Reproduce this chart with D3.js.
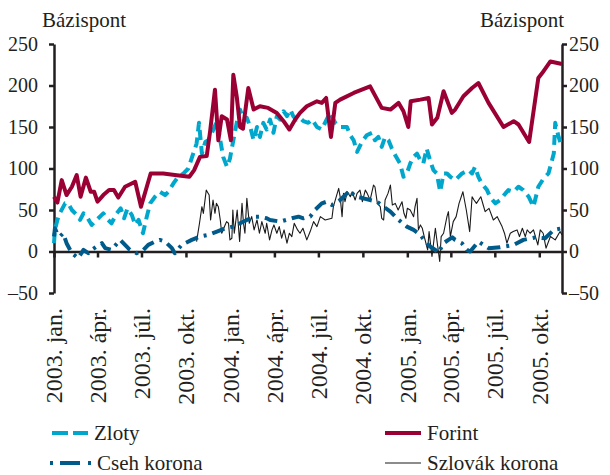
<!DOCTYPE html>
<html><head><meta charset="utf-8">
<script src="https://cdn.jsdelivr.net/npm/d3@7"></script>
<style>body{margin:0;background:#fff} svg{display:block}</style>
</head><body>
<svg id="c" width="610" height="475"></svg>
<script>
// ---- data ----
const forint = [["2003-01-01",66],["2003-01-08",59],["2003-01-17",86],["2003-01-27",68],["2003-02-07",78],["2003-02-17",92],["2003-02-25",66],["2003-03-08",89],["2003-03-18",72],["2003-03-25",72],["2003-04-01",60],["2003-04-13",68],["2003-04-25",74],["2003-05-05",74],["2003-05-14",65],["2003-05-28",78],["2003-06-18",84],["2003-06-30",54],["2003-07-12",78],["2003-07-20",94],["2003-08-15",94],["2003-09-12",92],["2003-10-08",90],["2003-10-18",98],["2003-10-30",114],["2003-11-13",115],["2003-11-20",145],["2003-11-30",195],["2003-12-07",134],["2003-12-14",163],["2003-12-25",159],["2004-01-02",134],["2004-01-07",213],["2004-01-14",187],["2004-01-21",150],["2004-01-27",148],["2004-02-07",197],["2004-02-18",171],["2004-03-02",175],["2004-03-19",173],["2004-04-06",167],["2004-04-20",157],["2004-05-02",147],["2004-05-14",159],["2004-05-24",167],["2004-06-07",175],["2004-06-28",181],["2004-07-08",179],["2004-07-17",185],["2004-07-27",138],["2004-08-05",179],["2004-08-15",183],["2004-09-12",191],["2004-10-16",199],["2004-11-09",173],["2004-11-27",171],["2004-12-14",179],["2004-12-24",169],["2005-01-03",150],["2005-01-08",181],["2005-01-28",183],["2005-02-14",185],["2005-02-21",153],["2005-03-04",161],["2005-03-17",193],["2005-04-03",167],["2005-04-10",171],["2005-04-27",187],["2005-05-15",197],["2005-05-28",203],["2005-06-18",179],["2005-07-19",150],["2005-08-09",157],["2005-08-19",153],["2005-09-10",132],["2005-09-29",209],["2005-10-07",215],["2005-10-24",229],["2005-11-17",226]];

const zloty = [["2003-01-01",10],["2003-01-03",26],["2003-01-08",38],["2003-01-13",46],["2003-01-24",58],["2003-01-30",58],["2003-02-07",50],["2003-02-17",44],["2003-02-24",38],["2003-03-03",46],["2003-03-10",42],["2003-03-20",32],["2003-03-30",38],["2003-04-13",46],["2003-04-23",38],["2003-04-30",34],["2003-05-11",46],["2003-05-19",52],["2003-05-26",40],["2003-06-02",52],["2003-06-11",44],["2003-06-18",32],["2003-06-25",38],["2003-07-04",22],["2003-07-12",42],["2003-07-19",58],["2003-07-29",66],["2003-08-08",72],["2003-08-19",68],["2003-08-26",72],["2003-09-05",82],["2003-09-15",90],["2003-09-26",94],["2003-10-06",100],["2003-10-16",118],["2003-10-23",130],["2003-10-28",155],["2003-11-03",118],["2003-11-10",132],["2003-11-16",134],["2003-11-27",147],["2003-12-04",157],["2003-12-11",134],["2003-12-17",114],["2003-12-25",102],["2003-12-31",112],["2004-01-07",134],["2004-01-14",155],["2004-01-21",171],["2004-01-28",159],["2004-02-04",161],["2004-02-11",150],["2004-02-18",134],["2004-02-25",150],["2004-03-02",138],["2004-03-09",155],["2004-03-16",147],["2004-03-23",159],["2004-03-30",143],["2004-04-06",163],["2004-04-13",159],["2004-04-20",169],["2004-04-27",163],["2004-05-04",171],["2004-05-10",163],["2004-05-17",159],["2004-05-24",161],["2004-05-31",157],["2004-06-10",155],["2004-06-18",159],["2004-06-28",150],["2004-07-08",147],["2004-07-18",159],["2004-07-25",167],["2004-08-05",155],["2004-08-15",150],["2004-08-29",150],["2004-09-05",140],["2004-09-12",134],["2004-09-19",120],["2004-09-29",132],["2004-10-09",140],["2004-10-20",143],["2004-10-26",134],["2004-11-02",138],["2004-11-09",126],["2004-11-16",138],["2004-11-23",134],["2004-11-30",124],["2004-12-07",116],["2004-12-17",106],["2004-12-24",90],["2004-12-31",94],["2005-01-07",106],["2005-01-14",114],["2005-01-21",118],["2005-01-28",110],["2005-02-03",106],["2005-02-10",124],["2005-02-17",110],["2005-02-24",98],["2005-03-03",94],["2005-03-10",72],["2005-03-17",94],["2005-03-24",94],["2005-03-31",90],["2005-04-10",86],["2005-04-24",94],["2005-05-08",98],["2005-05-15",94],["2005-05-21",102],["2005-05-28",90],["2005-06-04",82],["2005-06-15",74],["2005-06-21",66],["2005-07-02",58],["2005-07-12",62],["2005-07-23",70],["2005-07-29",74],["2005-08-09",72],["2005-08-19",78],["2005-08-29",74],["2005-09-09",66],["2005-09-19",54],["2005-09-29",78],["2005-10-10",88],["2005-10-20",94],["2005-10-31",118],["2005-11-03",155],["2005-11-10",138],["2005-11-17",126]];

const cseh = [["2003-01-01",18],["2003-01-03",28],["2003-01-07",22],["2003-01-13",18],["2003-01-20",22],["2003-01-27",10],["2003-02-07",-2],["2003-02-20",-8],["2003-03-03",2],["2003-03-13",-2],["2003-03-20",2],["2003-03-30",6],["2003-04-10",10],["2003-04-17",4],["2003-04-30",2],["2003-05-18",14],["2003-05-28",8],["2003-06-07",2],["2003-06-21",-2],["2003-07-05",2],["2003-07-15",8],["2003-07-29",12],["2003-08-08",14],["2003-08-19",12],["2003-09-02",4],["2003-09-08",-2],["2003-09-22",8],["2003-10-13",14],["2003-10-30",18],["2003-11-16",20],["2003-12-04",24],["2003-12-21",28],["2004-01-07",30],["2004-01-21",34],["2004-02-04",38],["2004-02-21",42],["2004-03-02",42],["2004-03-16",40],["2004-03-23",38],["2004-04-13",36],["2004-05-07",40],["2004-05-21",42],["2004-05-31",40],["2004-06-14",42],["2004-06-24",50],["2004-07-08",58],["2004-07-18",60],["2004-07-29",56],["2004-08-15",62],["2004-08-29",70],["2004-09-05",74],["2004-09-12",68],["2004-09-19",66],["2004-10-02",64],["2004-10-16",62],["2004-10-30",60],["2004-11-13",54],["2004-11-27",48],["2004-12-14",38],["2004-12-31",30],["2005-01-14",26],["2005-01-28",20],["2005-02-07",12],["2005-02-17",6],["2005-02-28",2],["2005-03-06",-2],["2005-03-17",10],["2005-03-27",14],["2005-04-04",17],["2005-04-10",14],["2005-04-24",10],["2005-05-04",2],["2005-05-11",0],["2005-05-28",12],["2005-06-18",4],["2005-07-12",5],["2005-08-09",8],["2005-08-29",14],["2005-09-23",17],["2005-10-13",16],["2005-10-31",26],["2005-11-17",28]];

const szlovak = [["2003-10-23",12],["2003-10-29",34],["2003-11-03",54],["2003-11-06",46],["2003-11-12",74],["2003-11-14",72],["2003-11-18",68],["2003-11-21",38],["2003-11-26",62],["2003-11-30",46],["2003-12-03",58],["2003-12-07",54],["2003-12-11",38],["2003-12-14",22],["2003-12-17",26],["2003-12-21",32],["2003-12-24",36],["2003-12-28",34],["2003-12-31",14],["2004-01-04",16],["2004-01-06",50],["2004-01-09",22],["2004-01-12",36],["2004-01-15",50],["2004-01-20",12],["2004-01-25",58],["2004-01-28",34],["2004-01-31",22],["2004-02-04",64],["2004-02-09",34],["2004-02-14",42],["2004-02-19",26],["2004-02-25",38],["2004-03-01",22],["2004-03-06",36],["2004-03-13",22],["2004-03-16",34],["2004-03-22",14],["2004-03-27",26],["2004-03-31",32],["2004-04-06",22],["2004-04-11",30],["2004-04-16",16],["2004-04-21",26],["2004-04-27",10],["2004-05-02",22],["2004-05-07",18],["2004-05-12",34],["2004-05-19",26],["2004-05-24",22],["2004-05-30",28],["2004-06-07",14],["2004-06-14",24],["2004-06-21",36],["2004-06-28",30],["2004-07-05",42],["2004-07-15",38],["2004-07-29",40],["2004-08-01",54],["2004-08-07",66],["2004-08-12",76],["2004-08-15",66],["2004-08-19",42],["2004-08-22",70],["2004-08-25",60],["2004-08-30",72],["2004-09-05",66],["2004-09-09",72],["2004-09-15",62],["2004-09-19",70],["2004-09-25",74],["2004-09-30",60],["2004-10-06",74],["2004-10-10",70],["2004-10-16",62],["2004-10-23",80],["2004-10-26",78],["2004-10-31",58],["2004-11-06",54],["2004-11-09",40],["2004-11-13",38],["2004-11-16",62],["2004-11-22",70],["2004-11-27",80],["2004-12-01",56],["2004-12-07",58],["2004-12-13",50],["2004-12-21",60],["2004-12-25",46],["2004-12-29",40],["2005-01-01",52],["2005-01-07",50],["2005-01-14",42],["2005-01-17",54],["2005-01-21",64],["2005-01-24",26],["2005-01-28",32],["2005-02-01",28],["2005-02-05",18],["2005-02-12",2],["2005-02-15",24],["2005-02-21",-6],["2005-02-28",28],["2005-03-04",10],["2005-03-09",-12],["2005-03-12",18],["2005-03-17",22],["2005-03-24",42],["2005-03-27",48],["2005-03-31",18],["2005-04-06",36],["2005-04-12",42],["2005-04-18",58],["2005-04-26",72],["2005-05-03",50],["2005-05-10",24],["2005-05-15",66],["2005-05-19",62],["2005-05-24",58],["2005-06-02",66],["2005-06-07",56],["2005-06-11",48],["2005-06-19",52],["2005-06-28",38],["2005-07-06",42],["2005-07-16",30],["2005-07-21",22],["2005-07-26",10],["2005-08-02",22],["2005-08-08",24],["2005-08-16",26],["2005-08-21",18],["2005-08-27",28],["2005-09-02",18],["2005-09-06",26],["2005-09-12",22],["2005-09-19",26],["2005-09-28",8],["2005-10-03",26],["2005-10-09",22],["2005-10-15",4],["2005-10-24",18],["2005-11-03",14],["2005-11-13",24],["2005-11-17",20]];

const yTicks = [-50, 0, 50, 100, 150, 200, 250];
const xTickDates = ["2003-01-01","2003-04-01","2003-07-01","2003-10-01","2004-01-01","2004-04-01","2004-07-01","2004-10-01","2005-01-01","2005-04-01","2005-07-01","2005-10-01"];
const xTickLabels = ["2003. jan.","2003. ápr.","2003. júl.","2003. okt.","2004. jan.","2004. ápr.","2004. júl.","2004. okt.","2005. jan.","2005. ápr.","2005. júl.","2005. okt."];
const xDomain = ["2003-01-01","2005-11-17"];
const unitLabel = "Bázispont";
const seriesNames = ["Zloty","Forint","Cseh korona","Szlovák korona"];

// ---- drawing ----
const SERIF = '"Liberation Serif"';
const ink = "#231f20";
const parse = d3.timeParse("%Y-%m-%d");
const svg = d3.select("#c");
const L = 54, R = 562, T = 44, B = 293;
const x = d3.scaleTime().domain(xDomain.map(parse)).range([L, R]);
const y = d3.scaleLinear().domain([-50, 250]).range([B, T]);
const fmt = d => d < 0 ? "\u2013" + Math.abs(d) : String(d);
const txt = (sel, size) => sel.attr("font-family", "Liberation Serif")
  .style("font-family", SERIF).style("font-size", size + "px").attr("fill", ink);

const styles = {
  "Zloty": {color: "#00a7cc", width: 4, dash: "10,6"},
  "Forint": {color: "#9b0034", width: 4, dash: null},
  "Cseh korona": {color: "#005b8a", width: 4, dash: "13,6,3,6"},
  "Szlovák korona": {color: "#1a1a1a", width: 1.1, dash: null}
};

// axes
const gl = svg.append("g").attr("transform", `translate(${L},0)`)
  .call(d3.axisLeft(y).tickValues(yTicks).tickSize(5).tickSizeOuter(0).tickFormat(fmt).tickPadding(11));
const gr = svg.append("g").attr("transform", `translate(${R},0)`)
  .call(d3.axisRight(y).tickValues(yTicks).tickSize(5).tickSizeOuter(0).tickFormat(fmt).tickPadding(2));
[gl, gr].forEach(g => {
  g.attr("font-family", "Liberation Serif");
  g.select(".domain").attr("stroke", ink).attr("stroke-width", 2.5);
  g.selectAll(".tick line").attr("stroke", ink).attr("stroke-width", 2.5);
  txt(g.selectAll(".tick text"), 20);
});

const gx = svg.append("g").attr("transform", `translate(0,${y(0)})`)
  .call(d3.axisBottom(x).tickValues(xTickDates.map(parse)).tickSize(6).tickSizeOuter(0).tickFormat(""));
gx.select(".domain").attr("stroke", ink).attr("stroke-width", 2.5);
gx.selectAll(".tick line").attr("stroke", ink).attr("stroke-width", 2.5);

// x labels, rotated
txt(svg.append("g").selectAll("text").data(xTickDates).join("text")
  .attr("transform", d => `translate(${x(parse(d))},308) rotate(-90)`)
  .attr("text-anchor", "end").attr("dy", "0.35em")
  .text((d, i) => xTickLabels[i]), 24);

// unit labels
txt(svg.append("text").attr("x", 42).attr("y", 27).text(unitLabel), 21);
txt(svg.append("text").attr("x", 564).attr("y", 27).attr("text-anchor", "end").text(unitLabel), 21);

// lines
const line = d3.line().x(d => x(parse(d[0]))).y(d => y(d[1]));
const series = [["Zloty", zloty], ["Forint", forint], ["Szlovák korona", szlovak], ["Cseh korona", cseh]];
series.forEach(([name, data]) => {
  const s = styles[name];
  svg.append("path").datum(data).attr("d", line)
    .attr("fill", "none").attr("stroke", s.color).attr("stroke-width", s.width)
    .attr("stroke-dasharray", s.dash).attr("stroke-linejoin", "round");
});

// legend
const legendPos = {
  "Zloty": [52, 433], "Forint": [385, 433],
  "Cseh korona": [50, 463], "Szlovák korona": [385, 463]
};
seriesNames.forEach(name => {
  const s = styles[name];
  const [lx, ly] = legendPos[name];
  const len = name === "Cseh korona" ? 41 : 36;
  svg.append("line").attr("x1", lx).attr("x2", lx + len).attr("y1", ly).attr("y2", ly)
    .attr("stroke", s.color).attr("stroke-width", s.width)
    .attr("stroke-dasharray", name === "Zloty" ? "16,5" : name === "Cseh korona" ? "3,7,20,8,3" : null);
  txt(svg.append("text").attr("x", lx + len + 6).attr("y", ly).attr("dy", "0.35em").text(name), 21);
});
</script>
</body></html>
